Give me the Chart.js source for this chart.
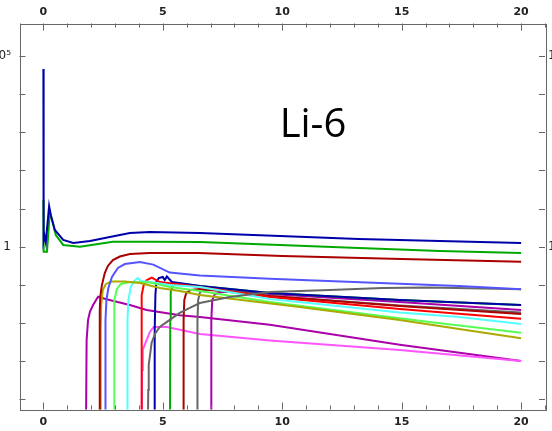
<!DOCTYPE html>
<html>
<head>
<meta charset="utf-8">
<script src="https://cdn.jsdelivr.net/npm/chart.js@4/dist/chart.umd.min.js"></script>
<style>
  html, body { margin: 0; padding: 0; background: #fff; }
  #wrap { width: 552px; height: 431px; }
</style>
</head>
<body>
<div id="wrap"><canvas id="myChart" width="552" height="431"></canvas></div>
<script>
// curves as [x, y] pairs (1e-5 = below the bottom edge)
const blue1 = [[0, 4.5e4], [0.01, 1.45], [0.05, 1.9], [0.1, 1.3], [0.24, 11.6], [0.31, 6.8], [0.48, 2.74],
	[0.83, 1.5], [1.25, 1.25], [1.95, 1.41], [2.78, 1.79], [3.62, 2.28], [4.46, 2.43], [6.55, 2.28],
	[9.9, 1.91], [13.2, 1.59], [16.6, 1.41], [20, 1.25]];
const green1 = [[0, 16.7], [0.01, 0.74], [0.15, 0.74], [0.27, 8.2], [0.36, 5.0], [0.52, 2.02], [0.83, 1.11],
	[1.53, 1.0], [2.91, 1.35], [4.46, 1.35], [6.55, 1.33], [9.9, 1.11], [13.2, 0.925], [16.6, 0.77], [20, 0.684]];
const darkRed1 = [[2.36, 1e-5], [2.36, 0.02], [2.38, 0.049], [2.45, 0.099], [2.57, 0.205], [2.7, 0.313],
	[2.91, 0.449], [3.2, 0.554], [3.62, 0.645], [4.46, 0.684], [6.5, 0.684], [10, 0.57], [15, 0.476], [20, 0.405]];
const lightBlue = [[2.59, 1e-5], [2.6, 0.0121], [2.64, 0.0403], [2.72, 0.083], [2.87, 0.161], [3.12, 0.277],
	[3.41, 0.352], [4.04, 0.398], [4.6, 0.34], [5.29, 0.21], [6.55, 0.175], [9.48, 0.145], [14.08, 0.112],
	[17.4, 0.0936], [20, 0.0767]];
const gray1 = [[4.37, 1e-5], [4.39, 1.77e-4], [4.41, 8.0e-4], [4.53, 0.00301], [4.67, 0.00519], [4.87, 0.0079],
	[5.29, 0.0121], [5.71, 0.0184], [6.13, 0.0249], [6.55, 0.0336], [7.8, 0.0482], [9.48, 0.0652],
	[11.99, 0.074], [14.2, 0.083], [16.17, 0.0855], [20, 0.0767]];
const olive = [[2.4, 1e-5], [2.4, 0.0066], [2.42, 0.0298], [2.49, 0.074], [2.62, 0.106], [2.87, 0.123],
	[3.41, 0.123], [4.04, 0.112], [4.87, 0.083], [5.71, 0.069], [6.55, 0.0544], [10.73, 0.0264],
	[14.92, 0.0121], [17.4, 0.007], [20, 0.004]];
const lightGreen = [[2.96, 1e-5], [2.96, 0.0121], [2.98, 0.0403], [3.08, 0.078], [3.24, 0.106], [3.62, 0.119],
	[4.46, 0.116], [5.29, 0.088], [6.55, 0.069], [9.48, 0.0357], [12.82, 0.0195], [16.17, 0.0107], [20, 0.0056]];
const cyan = [[3.51, 1e-5], [3.52, 0.0121], [3.56, 0.0403], [3.66, 0.088], [3.79, 0.126], [3.95, 0.151],
	[4.08, 0.126], [4.46, 0.119], [5.29, 0.0994], [6.55, 0.088], [9.48, 0.0428], [14.92, 0.0190],
	[17.4, 0.0144], [20, 0.0095]];
const red = [[4.1, 1e-5], [4.11, 0.0121], [4.12, 0.0544], [4.2, 0.0994], [4.33, 0.134], [4.54, 0.156],
	[4.87, 0.119], [6.55, 0.088], [9.48, 0.0482], [14.92, 0.0234], [20, 0.0129]];
const pink = [[4.12, 1e-5], [4.13, 5.9e-4], [4.16, 0.00198], [4.32, 0.0036], [4.46, 0.00585], [4.62, 0.0079],
	[5.17, 0.0079], [6.55, 0.0052], [9.48, 0.0035], [14.92, 0.00198], [20, 0.00102]];
const blue2 = [[4.65, 1e-5], [4.66, 0.0066], [4.69, 0.0544], [4.73, 0.119], [4.83, 0.151], [5.0, 0.161],
	[5.08, 0.134], [5.17, 0.166], [5.38, 0.119], [6.55, 0.0936], [9.48, 0.0615], [14.92, 0.0403], [20, 0.0298]];
const green2 = [[5.3, 1e-5], [5.31, 0.0121], [5.33, 0.0652], [5.42, 0.0994], [5.71, 0.109], [6.55, 0.0936],
	[9.48, 0.0615], [14.92, 0.0403], [20, 0.0298]];
const darkRed2 = [[5.86, 1e-5], [5.87, 0.0121], [5.9, 0.0403], [5.98, 0.0615], [6.17, 0.074], [6.55, 0.078],
	[9.48, 0.0512], [14.92, 0.028], [20, 0.0174]];
const gray2 = [[6.44, 1e-5], [6.45, 0.0121], [6.48, 0.0403], [6.56, 0.0652], [6.75, 0.074], [7.2, 0.078],
	[9.48, 0.0512], [14.92, 0.029], [20, 0.019]];
const purple2 = [[7.02, 1e-5], [7.03, 0.0121], [7.07, 0.0403], [7.18, 0.0578], [7.47, 0.0652], [8.22, 0.0652],
	[9.48, 0.0578], [14.92, 0.0357], [20, 0.022]];
const purple1 = [[1.78, 1e-5], [1.81, 0.0036], [1.87, 0.0121], [1.95, 0.0199], [2.08, 0.0298], [2.29, 0.049],
	[2.64, 0.042], [3.62, 0.0298], [4.32, 0.022], [5.71, 0.016], [6.55, 0.0144], [9.48, 0.009],
	[14.92, 0.0027], [20, 0.00102]];

// first in the list is drawn on top
const series = [
	['blue1', blue1, '#0000aa'],
	['green1', green1, '#00aa00'],
	['darkRed1', darkRed1, '#aa0000'],
	['lightBlue', lightBlue, '#5555ff'],
	['gray1', gray1, '#666666'],
	['olive', olive, '#aaaa00'],
	['lightGreen', lightGreen, '#55ff55'],
	['cyan', cyan, '#55ffff'],
	['red', red, '#ff0000'],
	['blue2', blue2, '#0000aa'],
	['green2', green2, '#00aa00'],
	['darkRed2', darkRed2, '#aa0000'],
	['gray2', gray2, '#666666'],
	['purple2', purple2, '#aa00aa'],
	['pink', pink, '#ff55ff'],
	['purple1', purple1, '#aa00aa'],
];

const xTickLabels = [0, 5, 10, 15, 20];
const yDecades = [-4, -3, -2, -1, 0, 1, 2, 3, 4, 5];
const yTickLabels = { 0: '1', 5: '10\u2075' };
const title = 'Li-6';

const frameAxes = {
	id: 'frameAxes',
	afterDraw(chart) {
		const { ctx, chartArea: a, scales: { x, y } } = chart;
		ctx.save();
		ctx.strokeStyle = '#666';
		ctx.lineWidth = 1;
		ctx.strokeRect(Math.round(a.left) + 0.5, Math.round(a.top) + 0.5,
			Math.round(a.right - a.left), Math.round(a.bottom - a.top));

		ctx.beginPath();
		for (let v = -1; v <= 21; v++) {
			const px = Math.round(x.getPixelForValue(v)) + 0.5;
			const len = v % 5 === 0 ? 7 : 4;
			ctx.moveTo(px, a.top); ctx.lineTo(px, a.top + len);
			ctx.moveTo(px, a.bottom); ctx.lineTo(px, a.bottom - len);
		}
		yDecades.forEach(e => {
			const py = Math.round(y.getPixelForValue(Math.pow(10, e))) + 0.5;
			ctx.moveTo(a.left, py); ctx.lineTo(a.left + 6, py);
			ctx.moveTo(a.right, py); ctx.lineTo(a.right - 6, py);
		});
		ctx.stroke();

		ctx.fillStyle = '#222';
		ctx.font = 'bold 11px "DejaVu Sans"';
		ctx.textAlign = 'center';
		ctx.textBaseline = 'middle';
		xTickLabels.forEach(v => {
			const px = x.getPixelForValue(v);
			ctx.fillText(String(v), px, 12);
			ctx.fillText(String(v), px, 422);
		});

		ctx.font = '12px "DejaVu Sans"';
		Object.keys(yTickLabels).forEach(e => {
			const py = y.getPixelForValue(Math.pow(10, Number(e)));
			ctx.textAlign = 'right';
			ctx.fillText(yTickLabels[e], 11, py);
			ctx.textAlign = 'left';
			ctx.fillText(yTickLabels[e], 548, py);
		});

		ctx.font = '40px "Open Sans"';
		ctx.textAlign = 'center';
		ctx.textBaseline = 'alphabetic';
		ctx.fillStyle = '#000';
		ctx.fillText(title, 313, 137);
		ctx.restore();
	}
};

new Chart(document.getElementById('myChart'), {
	type: 'line',
	data: {
		datasets: series.map(([label, pts, color]) => ({
			label: label,
			data: pts.map(p => ({ x: p[0], y: p[1] })),
			borderColor: color,
			backgroundColor: color,
			borderWidth: 2,
			pointRadius: 0,
			tension: 0,
			fill: false,
		}))
	},
	options: {
		responsive: false,
		animation: false,
		devicePixelRatio: 1,
		layout: { padding: { left: 19.5, right: 7, top: 23.5, bottom: 21.5 } },
		plugins: { legend: { display: false }, tooltip: { enabled: false } },
		scales: {
			x: { type: 'linear', min: -1, max: 21, display: false },
			y: { type: 'logarithmic', min: 5.47e-5, max: 6.97e5, display: false }
		}
	},
	plugins: [frameAxes]
});
</script>
</body>
</html>
